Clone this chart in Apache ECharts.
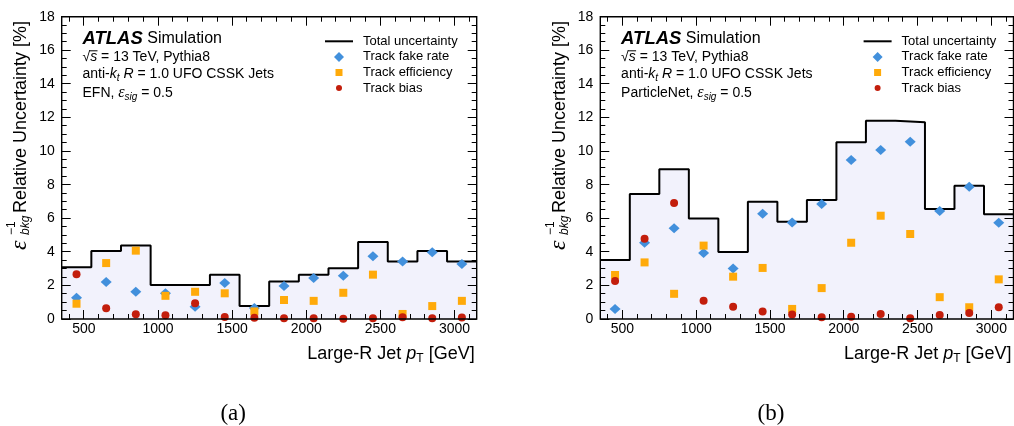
<!DOCTYPE html>
<html><head><meta charset="utf-8">
<script src="https://cdn.jsdelivr.net/npm/echarts@6/dist/echarts.min.js"></script>
<style>html,body{margin:0;padding:0;background:#fff}#c{width:1014px;height:426px}</style>
</head><body><div id="c"></div>
<script>
// ---- data ----
const binCenters = [450, 650, 850, 1050, 1250, 1450, 1650, 1850, 2050, 2250, 2450, 2650, 2850, 3050];
const binWidth = 200;
const xRange = [350, 3150];
const xMajorTicks = [500, 1000, 1500, 2000, 2500, 3000];
const xMinorTicks = [400, 600, 700, 800, 900, 1100, 1200, 1300, 1400, 1600, 1700, 1800, 1900, 2100, 2200, 2300, 2400, 2600, 2700, 2800, 2900, 3100];
const yRange = [0, 18];
const yMajorTicks = [0, 2, 4, 6, 8, 10, 12, 14, 16, 18];
const yMinorPerMajor = 4;

const efnTotal = [3.08, 4.05, 4.37, 2.02, 2.02, 2.64, 0.77, 2.24, 2.64, 3.02, 4.58, 3.43, 4.05, 3.43];
const efnFake  = [1.27, 2.20, 1.63, 1.53, 0.73, 2.14, 0.66, 1.96, 2.44, 2.58, 3.73, 3.43, 3.97, 3.27];
const efnEff   = [0.91, 3.33, 4.07, 1.38, 1.62, 1.53, 0.45, 1.13, 1.08, 1.56, 2.64, 0.30, 0.77, 1.08];
const efnBias  = [2.66, 0.64, 0.28, 0.22, 0.94, 0.12, 0.08, 0.04, 0.04, 0.02, 0.04, 0.10, 0.04, 0.09];

const pnTotal = [3.51, 7.44, 8.91, 5.99, 3.99, 6.98, 5.79, 7.08, 10.52, 11.81, 11.71, 6.55, 7.94, 6.23];
const pnFake  = [0.59, 4.54, 5.40, 3.93, 3.00, 6.27, 5.75, 6.85, 9.46, 10.06, 10.56, 6.43, 7.88, 5.73];
const pnEff   = [2.62, 3.37, 1.50, 4.37, 2.52, 3.04, 0.60, 1.84, 4.54, 6.15, 5.06, 1.30, 0.70, 2.36];
const pnBias  = [2.26, 4.78, 6.90, 1.09, 0.73, 0.45, 0.27, 0.10, 0.13, 0.30, 0.04, 0.24, 0.35, 0.70];

const seriesNames = ['Total uncertainty', 'Track fake rate', 'Track efficiency', 'Track bias'];
const taggerNames = ['EFN', 'ParticleNet'];
const panelCaptions = ['(a)', '(b)'];

// ---- styling ----
const FONT = '"Liberation Sans", Arial, Helvetica, sans-serif';
const SERIF = '"Liberation Serif", "Times New Roman", serif';
const C_FAKE = '#4290dc';
const C_EFF = '#ffaa0a';
const C_BIAS = '#c31e0c';
const C_FILL = '#f2f2fc';
const FRAME_W = 1.4;
const MAJOR_LEN = 9, MINOR_LEN = 5;

const grids = [
  { left: 61.7, top: 16.7, width: 415, height: 302.3 },
  { left: 600.3, top: 16.7, width: 413.2, height: 302.3 }
];

function stepData(vals) {
  const p = binCenters.map((c, i) => [c - binWidth / 2, vals[i]]);
  p.push([binCenters[binCenters.length - 1] + binWidth / 2, vals[vals.length - 1]]);
  return p;
}
function pts(vals) { return binCenters.map((c, i) => [c, vals[i]]); }

// tick marks (value, axis 0=x / 1=y, major flag)
const yMinorTicks = [];
for (let k = 0; k < yMajorTicks.length - 1; k++) {
  const a = yMajorTicks[k], b = yMajorTicks[k + 1];
  for (let j = 1; j < yMinorPerMajor; j++) yMinorTicks.push(a + (b - a) * j / yMinorPerMajor);
}
const tickData = [].concat(
  xMajorTicks.map(v => [v, 0, 1]), xMinorTicks.map(v => [v, 0, 0]),
  yMajorTicks.map(v => [v, 1, 1]), yMinorTicks.map(v => [v, 1, 0])
);
const snap = t => Math.round(t - 0.5) + 0.5;
function tickRenderItem(params, api) {
  const v = api.value(0), axis = api.value(1), L = api.value(2) ? MAJOR_LEN : MINOR_LEN;
  const st = { stroke: '#000', lineWidth: 1 };
  if (axis === 0) {
    const b = api.coord([v, yRange[0]]), t = api.coord([v, yRange[1]]);
    const x = snap(b[0]);
    return { type: 'group', children: [
      { type: 'line', shape: { x1: x, y1: b[1], x2: x, y2: b[1] - L }, style: st },
      { type: 'line', shape: { x1: x, y1: t[1], x2: x, y2: t[1] + L }, style: st }
    ] };
  }
  const l = api.coord([xRange[0], v]), r = api.coord([xRange[1], v]);
  const y = snap(l[1]);
  return { type: 'group', children: [
    { type: 'line', shape: { x1: l[0], y1: y, x2: l[0] + L, y2: y }, style: st },
    { type: 'line', shape: { x1: r[0], y1: y, x2: r[0] - L, y2: y }, style: st }
  ] };
}

const xAxes = [], yAxes = [], series = [], graphics = [], legends = [];

[[efnTotal, efnFake, efnEff, efnBias], [pnTotal, pnFake, pnEff, pnBias]].forEach((d, g) => {
  xAxes.push({
    gridIndex: g, type: 'value', min: xRange[0], max: xRange[1], position: 'bottom',
    splitLine: { show: false }, axisLine: { show: false }, axisTick: { show: false },
    axisLabel: { show: true, customValues: xMajorTicks.slice(), margin: 3, fontSize: 14, color: '#000', fontFamily: FONT }
  });
  yAxes.push({
    gridIndex: g, type: 'value', min: yRange[0], max: yRange[1], interval: 2, position: 'left',
    splitLine: { show: false }, axisLine: { show: false }, axisTick: { show: false },
    axisLabel: { show: true, margin: 7, fontSize: 14, color: '#000', fontFamily: FONT }
  });

  series.push({ name: seriesNames[0], type: 'line', step: 'end', xAxisIndex: g, yAxisIndex: g,
    data: stepData(d[0]), symbol: 'none', showSymbol: false, color: '#000',
    lineStyle: { color: '#000', width: 2 }, areaStyle: { color: C_FILL, opacity: 1 }, z: 2 });
  series.push({ name: seriesNames[1], type: 'scatter', xAxisIndex: g, yAxisIndex: g,
    data: pts(d[1]), symbol: 'diamond', symbolSize: [11, 10], itemStyle: { color: C_FAKE, opacity: 1 }, z: 3 });
  series.push({ name: seriesNames[2], type: 'scatter', xAxisIndex: g, yAxisIndex: g,
    data: pts(d[2]), symbol: 'rect', symbolSize: 8, itemStyle: { color: C_EFF, opacity: 1 }, z: 3 });
  series.push({ name: seriesNames[3], type: 'scatter', xAxisIndex: g, yAxisIndex: g,
    data: pts(d[3]), symbol: 'circle', symbolSize: 8, itemStyle: { color: C_BIAS, opacity: 1 }, z: 3 });
  series.push({ type: 'custom', xAxisIndex: g, yAxisIndex: g, data: tickData, renderItem: 'TICKS',
    silent: true, clip: false, z: 4 });

  const gl = grids[g].left, gr = grids[g].left + grids[g].width;
  const x0 = gl + 20.8;

  legends.push({
    orient: 'vertical', left: gl + 263.3, top: 34.8, padding: 0, itemGap: 2.6,
    itemWidth: 28, itemHeight: 10, selectedMode: false,
    textStyle: { fontSize: 13, lineHeight: 13, color: '#000', fontFamily: FONT, padding: [0, 0, 0, 5] },
    data: [
      { name: seriesNames[0], icon: 'path://M0,0 L28,0 L28,2 L0,2 Z', itemStyle: { color: '#000' } },
      { name: seriesNames[1], icon: 'path://M5,0 L10,5 L5,10 L0,5 Z' },
      { name: seriesNames[2], icon: 'path://M0,0 M10,10 M1.5,1.5 L8.5,1.5 L8.5,8.5 L1.5,8.5 Z' },
      { name: seriesNames[3], icon: 'path://M0,0 M10,10 M2,5 A3,3 0 1,1 8,5 A3,3 0 1,1 2,5 Z' }
    ]
  });

  const rich = {
    a: { fontFamily: FONT, fontSize: 18.5, fontWeight: 'bold', fontStyle: 'italic', fill: '#000' },
    s: { fontFamily: FONT, fontSize: 16, fill: '#000' },
    n: { fontFamily: FONT, fontSize: 14, fill: '#000', lineHeight: 18 },
    i: { fontFamily: FONT, fontSize: 14, fontStyle: 'italic', fill: '#000', lineHeight: 18 },
    e: { fontFamily: SERIF, fontSize: 16, fontStyle: 'italic', fill: '#000', lineHeight: 18 },
    sub: { fontFamily: FONT, fontSize: 10, fontStyle: 'italic', fill: '#000', lineHeight: 9, verticalAlign: 'bottom' }
  };
  graphics.push({ type: 'text', x: x0, y: 38.5, z: 10, style: { text: '{a|ATLAS}{s| Simulation}', rich: rich, verticalAlign: 'middle', align: 'left' } });
  graphics.push({ type: 'text', x: x0, y: 57.5, z: 10, style: { text: '{n|√}{i|s}{n| = 13 TeV, Pythia8}', rich: rich, verticalAlign: 'middle', align: 'left' } });
  graphics.push({ type: 'line', z: 10, shape: { x1: x0 + 7, y1: 50.8, x2: x0 + 15, y2: 50.8 }, style: { stroke: '#000', lineWidth: 1 } });
  graphics.push({ type: 'text', x: x0, y: 74.5, z: 10, style: { text: '{n|anti-}{i|k}{sub|t}{n| }{i|R}{n| = 1.0 UFO CSSK Jets}', rich: rich, verticalAlign: 'middle', align: 'left' } });
  graphics.push({ type: 'text', x: x0, y: 93, z: 10, style: { text: '{n|' + taggerNames[g] + ', }{e|ε}{sub|sig}{n| = 0.5}', rich: rich, verticalAlign: 'middle', align: 'left' } });

  graphics.push({ type: 'text', x: gr - 2, y: 354, style: {
    text: '{n|Large-R Jet }{i|p}{t|T}{n| [GeV]}',
    rich: {
      n: { fontFamily: FONT, fontSize: 18, fill: '#000', lineHeight: 22 },
      i: { fontFamily: FONT, fontSize: 18, fontStyle: 'italic', fill: '#000', lineHeight: 22 },
      t: { fontFamily: FONT, fontSize: 12, fill: '#000', lineHeight: 11, verticalAlign: 'bottom' }
    }, verticalAlign: 'middle', align: 'right' } });

  graphics.push({ type: 'group', x: gl - 41.7, y: 250, rotation: Math.PI / 2, children: [
    { type: 'text', x: 0, y: 0, style: { text: 'ε', fontFamily: SERIF, fontSize: 24, fontStyle: 'italic', fill: '#000', verticalAlign: 'middle', align: 'left' } },
    { type: 'text', x: 15, y: -8, style: { text: '−1', fontFamily: FONT, fontSize: 12, fill: '#000', verticalAlign: 'middle', align: 'left' } },
    { type: 'text', x: 15, y: 6, style: { text: 'bkg', fontFamily: FONT, fontSize: 12, fontStyle: 'italic', fill: '#000', verticalAlign: 'middle', align: 'left' } },
    { type: 'text', x: 37, y: 1, style: { text: 'Relative Uncertainty [%]', fontFamily: FONT, fontSize: 18, fill: '#000', verticalAlign: 'middle', align: 'left' } }
  ] });

  graphics.push({ type: 'text', x: (gl + gr) / 2 - 36, y: 414, style: { text: panelCaptions[g], fontFamily: SERIF, fontSize: 23, fill: '#000', verticalAlign: 'middle', align: 'center' } });
});

const option = JSON.parse(JSON.stringify({
  backgroundColor: '#fff',
  animation: false,
  grid: grids.map(g => Object.assign({ containLabel: false, show: true, z: 5, borderColor: '#000', borderWidth: FRAME_W, backgroundColor: 'transparent' }, g)),
  xAxis: xAxes,
  yAxis: yAxes,
  legend: legends,
  series: series,
  graphic: graphics
}));
option.xAxis.forEach(a => { a.axisLabel.formatter = v => String(v); });
option.yAxis.forEach(a => { a.axisLabel.formatter = v => String(v); });
option.series.forEach(s => { if (s.renderItem === 'TICKS') s.renderItem = tickRenderItem; });

const chart = echarts.init(document.getElementById('c'), null, { renderer: 'canvas' });
chart.setOption(option);
</script>
</body></html>
